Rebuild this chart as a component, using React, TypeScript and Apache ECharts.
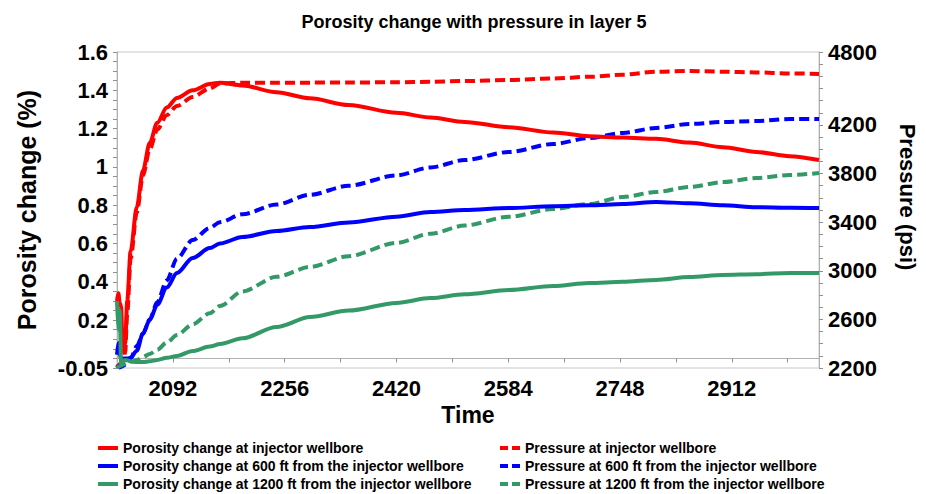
import React, { useEffect, useRef } from 'react';
import * as echarts from 'echarts';

// Time samples (days)
const time = [2010, 2012, 2014, 2016, 2018, 2020, 2022, 2025, 2030, 2039, 2048, 2058, 2069, 2083, 2098, 2121, 2146, 2161, 2194, 2244, 2293, 2350, 2420, 2470, 2520, 2585, 2650, 2703, 2752, 2801, 2850, 2899, 2948, 2997, 3040];

// Porosity change (%) – left axis
const porosityInjector = [0.30, 0.34, 0.29, 0.27, 0.10, 0.03, 0.08, 0.30, 0.56, 0.79, 0.98, 1.125, 1.23, 1.31, 1.36, 1.40, 1.433, 1.44, 1.425, 1.39, 1.358, 1.323, 1.283, 1.258, 1.235, 1.207, 1.18, 1.16, 1.153, 1.147, 1.127, 1.103, 1.078, 1.056, 1.036];
const porosity600 = [0.02, 0.08, 0.02, 0.0, -0.005, 0.0, 0.0, 0.0, 0.003, 0.04, 0.13, 0.2, 0.28, 0.37, 0.446, 0.524, 0.576, 0.6, 0.634, 0.665, 0.686, 0.71, 0.74, 0.765, 0.775, 0.785, 0.795, 0.8, 0.806, 0.817, 0.81, 0.8, 0.79, 0.787, 0.785];
const porosity1200 = [0.30, 0.15, 0.25, -0.03, -0.02, -0.01, -0.008, -0.01, -0.015, -0.019, -0.019, -0.015, -0.008, 0.003, 0.013, 0.039, 0.062, 0.075, 0.105, 0.164, 0.216, 0.25, 0.29, 0.315, 0.335, 0.357, 0.378, 0.394, 0.4, 0.41, 0.425, 0.436, 0.44, 0.446, 0.446];

// Pressure (psi) – right axis
const pressureInjector = [2210, 2220, 2230, 2240, 2250, 2270, 2330, 2650, 3100, 3480, 3780, 4000, 4160, 4280, 4356, 4430, 4500, 4540, 4548, 4548, 4548, 4549, 4551, 4555, 4561, 4570, 4582, 4596, 4613, 4638, 4644, 4638, 4632, 4624, 4619];
const pressure600 = [2200, 2215, 2205, 2210, 2215, 2220, 2230, 2250, 2280, 2380, 2480, 2600, 2740, 2920, 3100, 3253, 3352, 3400, 3465, 3545, 3625, 3700, 3785, 3850, 3911, 3977, 4043, 4092, 4134, 4175, 4208, 4224, 4232, 4249, 4249];
const pressure1200 = [2200, 2210, 2215, 2220, 2225, 2230, 2235, 2240, 2250, 2265, 2290, 2315, 2350, 2410, 2471, 2560, 2650, 2710, 2830, 2950, 3031, 3120, 3230, 3305, 3372, 3445, 3508, 3549, 3607, 3648, 3689, 3730, 3763, 3788, 3804];

// Axis labels
const timeLabels = [2092, 2256, 2420, 2584, 2748, 2912];
const porosityLabels = [-0.05, 0.2, 0.4, 0.6, 0.8, 1, 1.2, 1.4, 1.6];
const pressureLabels = [2200, 2600, 3000, 3400, 3800, 4200, 4800];

const porosityNames = [
  'Porosity change at injector wellbore',
  'Porosity change at 600 ft from the injector wellbore',
  'Porosity change at 1200 ft from the injector wellbore',
];
const pressureNames = [
  'Pressure at injector wellbore',
  'Pressure at 600 ft from the injector wellbore',
  'Pressure at 1200 ft from the injector wellbore',
];

const RED = '#ff0000';
const BLUE = '#0000ff';
const GREEN = '#339966';
const FONT = "'Liberation Sans', Arial, sans-serif";

const SOLID_ICON = 'path://M0,0H20V4H0Z';
const DASHED_ICON = 'path://M0,0H8V4H0Z M12,0H20V4H12Z';

function range(start: number, end: number, step: number, digits: number) {
  const out: number[] = [];
  const n = Math.round((end - start) / step);
  for (let i = 0; i <= n; i++) out.push(Number((start + i * step).toFixed(digits)));
  return out;
}

export default function App() {
  const ref = useRef<HTMLDivElement>(null);
  useEffect(() => {
    if (!ref.current) return;
    const chart = echarts.init(ref.current, undefined, { renderer: 'svg' });
    const pairs = (arr: number[]) => time.map((t, i) => [t, arr[i]]);
    const mk = (name: string, data: number[], color: string, dashed: boolean, yAxisIndex: number) => ({
      name,
      type: 'line',
      yAxisIndex,
      data: pairs(data),
      symbol: 'none',
      smooth: 0.3,
      smoothMonotone: 'x',
      lineStyle: { color, width: 4, type: dashed ? [10, 5] : 'solid' },
      itemStyle: { color },
    });
    const axisText = { fontFamily: FONT, fontWeight: 'bold', fontSize: 22, color: '#000' };
    const legendBase = {
      orient: 'vertical',
      top: 441,
      height: 70,
      padding: 0,
      itemGap: 4,
      itemWidth: 20,
      itemHeight: 14,
      symbolKeepAspect: true,
      itemStyle: { borderWidth: 0 },
      textStyle: { fontFamily: FONT, fontWeight: 'bold', fontSize: 14, lineHeight: 14, color: '#000' },
    };
    chart.setOption({
      animation: false,
      backgroundColor: '#fff',
      title: {
        text: 'Porosity change with pressure in layer 5',
        left: 469,
        textAlign: 'center',
        top: 8,
        textStyle: { fontFamily: FONT, fontWeight: 'bold', fontSize: 18, color: '#000' },
      },
      grid: {
        left: 117,
        right: 105,
        top: 52,
        bottom: 126,
        containLabel: false,
        show: true,
        borderColor: '#c8c8c8',
        borderWidth: 1,
        backgroundColor: 'transparent',
      },
      legend: [
        {
          ...legendBase,
          left: 98,
          data: porosityNames.map((name) => ({ name, icon: SOLID_ICON })),
        },
        {
          ...legendBase,
          left: 500,
          lineStyle: { type: [8, 4] },
          data: pressureNames.map((name) => ({ name, icon: DASHED_ICON })),
        },
      ],
      xAxis: {
        type: 'value',
        min: 2010,
        max: 3040,
        name: 'Time',
        nameLocation: 'middle',
        nameGap: 32,
        nameTextStyle: { ...axisText, fontSize: 23 },
        axisLine: { show: true, lineStyle: { color: '#b0b0b0' } },
        axisTick: { show: true, length: 4, lineStyle: { color: '#909090' }, customValues: range(2092, 2994, 82, 0) },
        axisLabel: { ...axisText, margin: 9, customValues: timeLabels, formatter: (v: number) => String(v) },
        splitLine: { show: false },
      },
      yAxis: [
        {
          type: 'value',
          min: -0.05,
          max: 1.6,
          position: 'left',
          name: 'Porosity change (%)',
          nameLocation: 'middle',
          nameRotate: 90,
          nameGap: 78,
          nameTextStyle: { ...axisText, fontSize: 25 },
          axisLine: { show: true, lineStyle: { color: '#b0b0b0' } },
          axisTick: { show: true, length: 4, lineStyle: { color: '#909090' }, customValues: range(-0.05, 1.6, 0.05, 2) },
          axisLabel: {
            ...axisText,
            margin: 9,
            customValues: porosityLabels,
            formatter: (v: number) => String(Math.round(v * 100) / 100),
          },
          splitLine: { show: false },
        },
        {
          type: 'value',
          min: 2200,
          max: 4800,
          position: 'right',
          name: 'Pressure (psi)',
          nameLocation: 'middle',
          nameRotate: -90,
          nameGap: 77,
          nameTextStyle: { ...axisText, fontSize: 22, padding: [0, 26, 0, 0] },
          axisLine: { show: true, lineStyle: { color: '#b0b0b0' } },
          axisTick: { show: true, length: 4, lineStyle: { color: '#909090' }, customValues: range(2200, 4800, 100, 0) },
          axisLabel: { ...axisText, margin: 9, customValues: pressureLabels, formatter: (v: number) => String(v) },
          splitLine: { show: false },
        },
      ],
      series: [
        mk(pressureNames[0], pressureInjector, RED, true, 1),
        mk(pressureNames[1], pressure600, BLUE, true, 1),
        mk(pressureNames[2], pressure1200, GREEN, true, 1),
        mk(porosityNames[0], porosityInjector, RED, false, 0),
        mk(porosityNames[1], porosity600, BLUE, false, 0),
        mk(porosityNames[2], porosity1200, GREEN, false, 0),
      ],
    });
    return () => chart.dispose();
  }, []);
  return <div ref={ref} style={{ width: 926, height: 494, position: 'absolute', left: 0, top: 0 }} />;
}
